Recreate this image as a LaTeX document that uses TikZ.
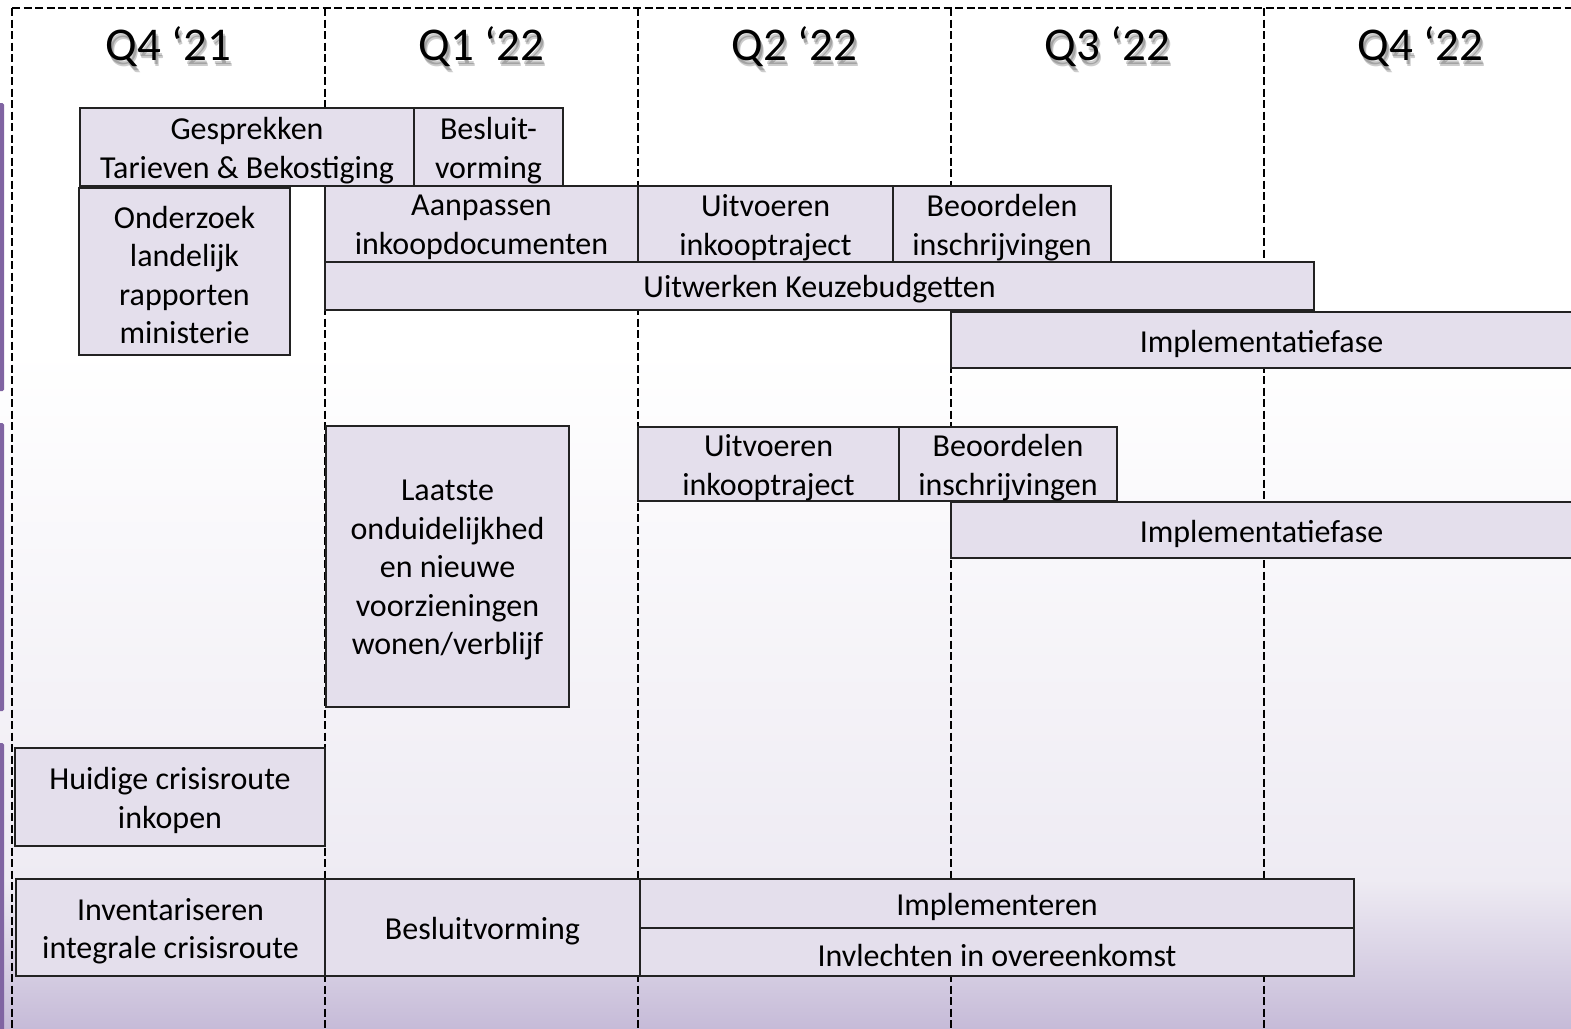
\documentclass[tikz,border=0pt]{standalone}
\usepackage{fontspec}
\setmainfont{Carlito}
\definecolor{boxfill}{HTML}{E4DFEC}
\definecolor{boxline}{HTML}{222222}
\definecolor{barpurple}{HTML}{8064A2}
\definecolor{bgmid}{HTML}{EEEBF3}
\definecolor{bgbot}{HTML}{C6BBD8}
\tikzset{
  taskrect/.style={draw=boxline, line width=1.2pt, fill=boxfill, inner sep=0pt, outer sep=0pt,
    anchor=north west},
  tasktext/.style={inner sep=0pt, align=center, font=\fontsize{32}{38.5}\selectfont},
  qhead/.style={font=\fontsize{47}{52}\selectfont, inner sep=0pt},
  qshadow/.style={qhead, text=black, opacity=0.2},
  divider/.style={line width=2.8pt, dash pattern=on 8pt off 3.5pt},
  sidebar/.style={fill=barpurple, rounded corners=1.5pt}
}
\newcommand{\taskbox}[6]{% name, x1, y1, x2, y2, text
  \node[taskrect, minimum width={#4-#2}, minimum height={#5-#3}] (#1) at (#2,#3) {};
  \node[tasktext] (#1-t) at ([yshift=-3.5pt]#1.center) {#6};}
\begin{document}
\begin{tikzpicture}[x=1pt,y=-1pt]
\useasboundingbox (0,0) rectangle (1571,1028);
\clip (0,0) rectangle (1571,1028);
% background
\fill[white] (0,0) rectangle (1571,350);
\shade[top color=white, bottom color=bgmid] (0,349) rectangle (1571,881);
\shade[top color=bgmid, bottom color=bgbot] (0,880) rectangle (1571,1028);
% side bars
\fill[sidebar] (-3,103) rectangle (4,391);
\fill[sidebar] (-3,423) rectangle (4,711);
\fill[sidebar] (-3,743) rectangle (4,1035);
% grid
\coordinate (tl) at (12,8);
\coordinate (tr) at (1571,8);
\draw[divider, line width=2.2pt] (tl) -- (tr);
\foreach \xx/\nm in {12/a,325/b,638/c,951/d,1264/e}{
  \coordinate (top\nm) at (\xx,8);
  \coordinate (bot\nm) at (\xx,1028);
  \draw[divider] (top\nm) -- (bot\nm);
}
% headers
\foreach \xx/\txt/\nm in {168.5/{Q4 ‘21}/qa,481.5/{Q1 ‘22}/qb,794.5/{Q2 ‘22}/qc,1107.5/{Q3 ‘22}/qd,1420.5/{Q4 ‘22}/qe}{
  \foreach \dx/\dy in {2/4,3/6}{
    \node[qshadow] at (\xx+\dx,47+\dy) {\txt};
  }
  \node[qhead] (\nm) at (\xx,47) {\txt};
}
% tasks
\taskbox{gesp}{80}{108}{414}{186}{Gesprekken\\Tarieven \& Bekostiging}
\taskbox{besl}{414}{108}{563}{186}{Besluit-\\vorming}
\taskbox{onderz}{79}{188}{290}{355}{Onderzoek\\landelijk\\rapporten\\ministerie}
\taskbox{aanp}{325}{186}{638}{262}{Aanpassen\\inkoopdocumenten}
\taskbox{uitv}{638}{186}{893}{262}{Uitvoeren\\inkooptraject}
\taskbox{beoord}{893}{186}{1111}{262}{Beoordelen\\inschrijvingen}
\taskbox{keuze}{325}{262}{1314}{310}{Uitwerken Keuzebudgetten}
\taskbox{impl}{951}{312}{1572}{368}{Implementatiefase}
\taskbox{laatste}{326}{426}{569}{707}{Laatste\\onduidelijkhed\\en nieuwe\\voorzieningen\\wonen/verblijf}
\taskbox{uitvb}{638}{427}{899}{501}{Uitvoeren\\inkooptraject}
\taskbox{beoordb}{899}{427}{1117}{501}{Beoordelen\\inschrijvingen}
\taskbox{implb}{951}{502}{1572}{558}{Implementatiefase}
\taskbox{huidig}{15}{748}{325}{846}{Huidige crisisroute\\inkopen}
\taskbox{invent}{16}{879}{325}{976}{Inventariseren\\integrale crisisroute}
\taskbox{beslb}{325}{879}{640}{976}{Besluitvorming}
\taskbox{implem}{640}{879}{1354}{928}{Implementeren}
\taskbox{invl}{640}{928}{1354}{976}{Invlechten in overeenkomst}
\end{tikzpicture}
\end{document}
